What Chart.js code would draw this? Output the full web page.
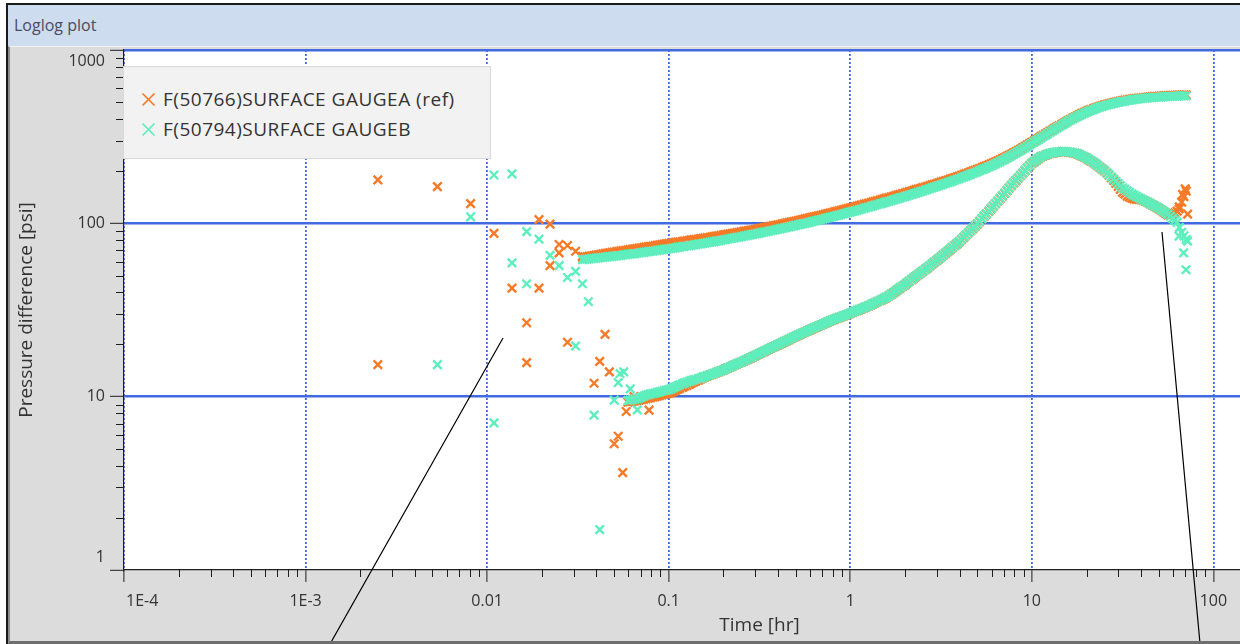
<!DOCTYPE html>
<html>
<head>
<meta charset="utf-8">
<title>Loglog plot</title>
<script src="https://cdn.jsdelivr.net/npm/chart.js@4.4.1/dist/chart.umd.min.js"></script>
<style>
  html, body { margin: 0; padding: 0; width: 1240px; height: 644px; overflow: hidden; background: #fff;
    font-family: "Segoe UI", "Open Sans", "Noto Sans", sans-serif; }
  #frame { position: absolute; left: 6px; top: 3px; width: 1300px; height: 700px;
    border-left: 2px solid #1a1a1a; border-top: 2px solid #1a1a1a; }
  #titlebar { position: absolute; left: 8px; top: 5px; width: 1300px; height: 41px; background: #cddcee;
    color: #4b4b60; font-size: 16px; line-height: 41px; padding-left: 6px; box-sizing: border-box; }
  #panel { position: absolute; left: 8px; top: 46px; width: 1450px; height: 598px; background: #dcdcdc;
    border-top: 1px solid #f4f4f4; border-left: 2px solid #8c8c8c; border-bottom: 3px solid #6e6e6e; box-sizing: border-box; }
  #chartBox { position: absolute; left: 10px; top: 48px; }
  #legend { position: absolute; left: 123px; top: 66px; width: 368px; height: 93px; box-sizing: border-box;
    background: #f2f2f2; border: 1px solid #d9d9d9; }
  #legend .item { position: absolute; left: 17px; height: 24px; display: flex; align-items: center;
    font-size: 19px; letter-spacing: 0.5px; color: #333; white-space: nowrap; }
  #legend svg { margin-right: 7px; }
</style>
</head>
<body>
<div id="frame"></div>
<div id="titlebar">Loglog plot</div>
<div id="panel"></div>
<div id="chartBox"><canvas id="plot" width="1385" height="593"></canvas></div>
<div id="legend"></div>
<script>
// axis ticks
const xTickValues = [1e-4, 1e-3, 0.01, 0.1, 1, 10, 100, 1000];
const xTickLabels = ['1E-4', '1E-3', '0.01', '0.1', '1', '10', '100', '1000'];
const yTickValues = [1, 10, 100, 1000];
const yTickLabels = ['1', '10', '100', '1000'];
const minorSteps = [2, 3, 4, 5, 6, 7, 8, 9];

const seriesNames = ['F(50766)SURFACE GAUGEA (ref)', 'F(50794)SURFACE GAUGEB'];
const seriesColors = ['#f77a28', '#5feebd'];

// time of the regular samples [hr]
const denseTime = [
  0.0335, 0.0345, 0.0355, 0.0365, 0.0376, 0.0387, 0.0398, 0.0410, 0.0422, 0.0434, 0.0447, 0.0460, 0.0473, 0.0487, 0.0501, 0.0516, 0.0531, 0.0546, 0.0562, 0.0579,
  0.0596, 0.0613, 0.0631, 0.0649, 0.0668, 0.0688, 0.0708, 0.0729, 0.0750, 0.0772, 0.0794, 0.0818, 0.0841, 0.0866, 0.0891, 0.0917, 0.0944, 0.0972, 0.100, 0.103,
  0.106, 0.109, 0.112, 0.115, 0.119, 0.122, 0.126, 0.130, 0.133, 0.137, 0.141, 0.146, 0.150, 0.154, 0.158, 0.163, 0.168, 0.173, 0.178, 0.183,
  0.188, 0.194, 0.200, 0.205, 0.211, 0.218, 0.224, 0.230, 0.237, 0.244, 0.251, 0.259, 0.266, 0.274, 0.282, 0.290, 0.299, 0.307, 0.316, 0.325,
  0.335, 0.345, 0.355, 0.365, 0.376, 0.387, 0.398, 0.410, 0.422, 0.434, 0.447, 0.460, 0.473, 0.487, 0.501, 0.516, 0.531, 0.546, 0.562, 0.579,
  0.596, 0.613, 0.631, 0.649, 0.668, 0.688, 0.708, 0.729, 0.750, 0.772, 0.794, 0.818, 0.841, 0.866, 0.891, 0.917, 0.944, 0.972, 1.00, 1.03,
  1.06, 1.09, 1.12, 1.15, 1.19, 1.22, 1.26, 1.30, 1.33, 1.37, 1.41, 1.46, 1.50, 1.54, 1.58, 1.63, 1.68, 1.73, 1.78, 1.83,
  1.88, 1.94, 2.00, 2.05, 2.11, 2.18, 2.24, 2.30, 2.37, 2.44, 2.51, 2.59, 2.66, 2.74, 2.82, 2.90, 2.99, 3.07, 3.16, 3.25,
  3.35, 3.45, 3.55, 3.65, 3.76, 3.87, 3.98, 4.10, 4.22, 4.34, 4.47, 4.60, 4.73, 4.87, 5.01, 5.16, 5.31, 5.46, 5.62, 5.79,
  5.96, 6.13, 6.31, 6.49, 6.68, 6.88, 7.08, 7.29, 7.50, 7.72, 7.94, 8.18, 8.41, 8.66, 8.91, 9.17, 9.44, 9.72, 10.0, 10.3,
  10.6, 10.9, 11.2, 11.5, 11.9, 12.2, 12.6, 13.0, 13.3, 13.7, 14.1, 14.6, 15.0, 15.4, 15.8, 16.3, 16.8, 17.3, 17.8, 18.3,
  18.8, 19.4, 20.0, 20.5, 21.1, 21.8, 22.4, 23.0, 23.7, 24.4, 25.1, 25.9, 26.6, 27.4, 28.2, 29.0, 29.9, 30.7, 31.6, 32.5,
  33.5, 34.5, 35.5, 36.5, 37.6, 38.7, 39.8, 41.0, 42.2, 43.4, 44.7, 46.0, 47.3, 48.7, 50.1, 51.6, 53.1, 54.6, 56.2, 57.9,
  59.6, 61.3, 63.1, 64.9, 66.8, 68.8, 70.8
];

// pressure change [psi]
const dpA = [
  63.8, 64.0, 64.3, 64.6, 64.9, 65.2, 65.6, 65.9, 66.3, 66.7, 67.1, 67.4, 67.7, 68.0, 68.3, 68.6, 69.0, 69.3, 69.6, 69.9,
  70.3, 70.6, 71.0, 71.3, 71.6, 72.0, 72.3, 72.6, 73.0, 73.3, 73.7, 74.0, 74.4, 74.8, 75.2, 75.5, 75.9, 76.3, 76.7, 77.0,
  77.3, 77.6, 78.0, 78.3, 78.7, 79.1, 79.5, 79.8, 80.2, 80.5, 80.8, 81.2, 81.7, 82.0, 82.4, 82.7, 83.1, 83.5, 84.0, 84.4,
  84.8, 85.2, 85.7, 86.1, 86.6, 87.0, 87.5, 87.9, 88.4, 88.8, 89.3, 89.8, 90.3, 90.8, 91.3, 91.8, 92.4, 92.9, 93.4, 93.9,
  94.4, 95.0, 95.6, 96.2, 96.9, 97.4, 97.9, 98.5, 99.2, 99.9, 100.6, 101.2, 101.9, 102.5, 103.1, 103.8, 104.5, 105.2, 106.0, 106.7,
  107.5, 108.2, 109.0, 109.7, 110.5, 111.3, 112.1, 112.9, 113.8, 114.6, 115.5, 116.4, 117.3, 118.1, 119.0, 119.9, 120.9, 121.8, 122.8, 123.7,
  124.7, 125.7, 126.7, 127.7, 128.7, 129.7, 130.7, 131.8, 132.9, 134.0, 135.1, 136.2, 137.4, 138.5, 139.7, 140.8, 142.0, 143.2, 144.4, 145.7,
  147.1, 148.3, 149.5, 150.9, 152.4, 153.7, 155.1, 156.4, 157.8, 159.2, 160.6, 162.0, 163.5, 165.0, 166.6, 168.1, 169.7, 171.3, 173.0, 174.6,
  176.2, 177.9, 179.7, 181.6, 183.5, 185.4, 187.4, 189.4, 191.4, 193.5, 195.7, 197.9, 200.1, 202.4, 204.8, 207.2, 209.7, 212.2, 214.7, 217.5,
  220.3, 223.2, 226.2, 229.4, 232.7, 236.1, 239.5, 243.3, 247.1, 251.1, 255.1, 259.5, 263.9, 268.5, 273.2, 278.2, 283.3, 288.5, 293.7, 299.1,
  304.6, 310.4, 316.2, 322.0, 327.9, 334.0, 340.1, 346.5, 353.0, 359.3, 365.7, 372.1, 378.6, 385.3, 392.0, 398.6, 405.3, 411.8, 418.3, 424.5,
  430.7, 436.5, 442.4, 448.0, 453.6, 458.8, 464.0, 468.8, 473.6, 478.0, 482.4, 486.4, 490.4, 494.1, 497.9, 501.3, 504.7, 507.8, 510.9, 513.7,
  516.6, 519.1, 521.6, 523.8, 526.1, 528.1, 530.1, 531.8, 533.5, 535.1, 536.8, 538.1, 539.5, 540.6, 541.8, 542.9, 544.0, 544.9, 545.9, 546.7,
  547.5, 548.2, 549.0, 549.6, 550.2, 550.7, 551.2
];
const dpB = [
  61.7, 61.9, 62.1, 62.3, 62.5, 62.7, 63.0, 63.2, 63.4, 63.6, 63.8, 64.0, 64.3, 64.5, 64.7, 64.9, 65.2, 65.4, 65.7, 65.9,
  66.2, 66.4, 66.7, 66.9, 67.2, 67.5, 67.8, 68.0, 68.3, 68.6, 68.9, 69.2, 69.5, 69.8, 70.1, 70.4, 70.7, 71.0, 71.3, 71.6,
  71.9, 72.2, 72.6, 72.9, 73.3, 73.6, 74.0, 74.3, 74.7, 75.0, 75.4, 75.8, 76.2, 76.5, 76.9, 77.3, 77.7, 78.1, 78.5, 78.9,
  79.3, 79.7, 80.2, 80.6, 81.1, 81.5, 82.0, 82.4, 82.9, 83.3, 83.8, 84.3, 84.8, 85.3, 85.8, 86.3, 86.8, 87.3, 87.9, 88.4,
  88.9, 89.4, 90.0, 90.6, 91.2, 91.7, 92.3, 92.9, 93.5, 94.1, 94.8, 95.4, 96.0, 96.6, 97.3, 97.9, 98.6, 99.3, 100, 100.7,
  101.4, 102.1, 102.8, 103.5, 104.3, 105.1, 105.9, 106.7, 107.5, 108.3, 109.1, 109.9, 110.8, 111.6, 112.5, 113.4, 114.3, 115.2, 116.1, 117.0,
  118.0, 119.0, 120.0, 121.0, 122.0, 123.0, 124.0, 125.1, 126.2, 127.3, 128.4, 129.5, 130.6, 131.7, 132.9, 134.0, 135.2, 136.4, 137.7, 138.9,
  140.2, 141.4, 142.7, 144.0, 145.4, 146.7, 148.1, 149.5, 150.9, 152.3, 153.8, 155.3, 156.8, 158.4, 160.0, 161.6, 163.2, 164.8, 166.5, 168.2,
  169.9, 171.7, 173.5, 175.4, 177.3, 179.2, 181.2, 183.2, 185.3, 187.4, 189.6, 191.8, 194.1, 196.4, 198.8, 201.3, 203.8, 206.3, 208.9, 211.7,
  214.5, 217.5, 220.5, 223.7, 227.0, 230.5, 234.1, 237.9, 241.8, 245.9, 250.1, 254.5, 259.0, 263.7, 268.4, 273.3, 278.3, 283.5, 288.8, 294.2,
  299.8, 305.4, 311.2, 317.1, 323.1, 329.2, 335.4, 341.7, 348.1, 354.5, 361.0, 367.5, 374.1, 380.7, 387.4, 393.9, 400.5, 406.9, 413.3, 419.4,
  425.6, 431.4, 437.2, 442.7, 448.2, 453.4, 458.5, 463.2, 468.0, 472.3, 476.7, 480.6, 484.6, 488.3, 492.0, 495.3, 498.7, 501.7, 504.8, 507.6,
  510.5, 513.0, 515.4, 517.6, 519.9, 521.8, 523.8, 525.5, 527.2, 528.8, 530.4, 531.7, 533.1, 534.2, 535.4, 536.4, 537.5, 538.4, 539.4, 540.2,
  541.0, 541.7, 542.5, 543.1, 543.7, 544.2, 544.7
];

// derivative [psi], no smooth value before 0.06 hr
const derA = [
  null, null, null, null, null, null, null, null, null, null, null, null, null, null, null, null, null, null, null, null,
  9.3, 9.35, 9.4, 9.45, 9.5, 9.56, 9.62, 9.68, 9.75, 9.81, 9.87, 9.93, 10.0, 10.07, 10.15, 10.22, 10.3, 10.37, 10.45, 10.58,
  10.72, 10.86, 11.0, 11.15, 11.3, 11.45, 11.6, 11.77, 11.95, 12.12, 12.3, 12.47, 12.65, 12.82, 13.0, 13.15, 13.3, 13.45, 13.6, 13.75,
  13.9, 14.07, 14.25, 14.42, 14.6, 14.8, 15.0, 15.2, 15.4, 15.6, 15.8, 16.02, 16.25, 16.47, 16.7, 16.95, 17.2, 17.45, 17.7, 17.95,
  18.2, 18.47, 18.75, 19.02, 19.3, 19.57, 19.85, 20.15, 20.45, 20.72, 21.0, 21.32, 21.65, 21.97, 22.3, 22.6, 22.9, 23.22, 23.55, 23.87,
  24.2, 24.55, 24.9, 25.2, 25.5, 25.85, 26.2, 26.55, 26.9, 27.25, 27.6, 27.92, 28.25, 28.57, 28.9, 29.2, 29.5, 29.85, 30.2, 30.6,
  31.0, 31.35, 31.7, 32.1, 32.5, 32.92, 33.35, 33.82, 34.3, 34.8, 35.3, 35.8, 36.3, 36.8, 37.3, 38.1, 38.9, 39.7, 40.5, 41.4,
  42.3, 43.2, 44.1, 45.15, 46.2, 47.25, 48.3, 49.45, 50.6, 51.75, 52.9, 54.15, 55.4, 56.75, 58.1, 59.5, 60.9, 62.35, 63.8, 65.45,
  67.1, 68.85, 70.6, 72.45, 74.3, 76.2, 78.1, 80.5, 82.9, 85.4, 88.0, 90.6, 93.3, 96.1, 99.0, 102.4, 105.9, 109.6, 113.3, 117.3,
  121.3, 125.4, 129.7, 134.2, 138.9, 143.8, 148.9, 154.1, 159.5, 165.1, 170.9, 176.5, 182.3, 188.4, 194.7, 201.2, 207.9, 214.7, 221.7, 226.5,
  231.3, 236.3, 241.5, 244.3, 247.1, 250.0, 252.8, 254.1, 255.4, 256.8, 257.9, 258.5, 258.7, 258.4, 257.6, 256.4, 254.9, 253.3, 251.6, 248.1,
  244.6, 241.1, 237.6, 233.2, 228.8, 224.5, 220.2, 215.2, 210.2, 205.5, 200.8, 195.1, 189.5, 183.2, 177.0, 170.2, 163.5, 157.1, 151.0, 147.2,
  143.5, 141.5, 139.5, 138.5, 137.5, 137.2, 137.0, 135.5, 134.0, 132.0, 130.0, 127.9, 125.8, 123.6, 121.5, 119.0, 116.5, 114.2, 112.0, 112.0,
  112.8, 115.0, 117.5, 124.5, 132.4, 142.5, 153.5
];
const derB = [
  null, null, null, null, null, null, null, null, null, null, null, null, null, null, null, null, null, null, null, null,
  9.5, 9.55, 9.6, 9.67, 9.75, 9.85, 9.95, 10.07, 10.2, 10.28, 10.37, 10.43, 10.5, 10.58, 10.67, 10.75, 10.84, 10.92, 11.0, 11.13,
  11.27, 11.41, 11.56, 11.71, 11.86, 12.0, 12.15, 12.27, 12.4, 12.5, 12.6, 12.7, 12.8, 12.95, 13.1, 13.22, 13.34, 13.5, 13.65, 13.8,
  13.96, 14.12, 14.29, 14.47, 14.66, 14.85, 15.05, 15.25, 15.45, 15.65, 15.85, 16.08, 16.31, 16.55, 16.79, 17.03, 17.28, 17.53, 17.78, 18.04,
  18.30, 18.57, 18.84, 19.11, 19.39, 19.67, 19.95, 20.24, 20.54, 20.83, 21.13, 21.44, 21.75, 22.07, 22.39, 22.70, 23.01, 23.33, 23.66, 23.99,
  24.32, 24.66, 25.00, 25.32, 25.64, 25.98, 26.33, 26.68, 27.04, 27.38, 27.73, 28.05, 28.38, 28.69, 29.01, 29.33, 29.65, 29.99, 30.34, 30.73,
  31.12, 31.50, 31.88, 32.27, 32.66, 33.08, 33.50, 33.96, 34.43, 34.93, 35.44, 35.96, 36.48, 36.99, 37.50, 38.28, 39.08, 39.90, 40.74, 41.64,
  42.56, 43.45, 44.36, 45.39, 46.45, 47.51, 48.59, 49.69, 50.82, 52.00, 53.21, 54.45, 55.72, 57.05, 58.41, 59.81, 61.24, 62.67, 64.12, 65.76,
  67.45, 69.18, 70.96, 72.78, 74.64, 76.55, 78.52, 80.91, 83.37, 85.85, 88.41, 91.04, 93.76, 96.61, 99.54, 102.9, 106.4, 110.1, 113.9, 117.8,
  121.9, 126.0, 130.3, 134.9, 139.6, 144.5, 149.6, 154.9, 160.3, 166.0, 171.8, 177.4, 183.2, 189.3, 195.7, 202.2, 208.9, 215.7, 222.8, 227.6,
  232.5, 237.5, 242.7, 245.5, 248.3, 251.2, 254.1, 255.4, 256.7, 258.1, 259.2, 259.8, 260.0, 259.7, 258.9, 257.7, 256.2, 254.6, 252.9, 249.3,
  245.8, 242.3, 238.8, 234.3, 229.9, 225.6, 221.3, 216.2, 211.3, 206.5, 201.8, 196.1, 190.5, 185.1, 179.9, 174.8, 169.8, 165.0, 160.3, 157.1,
  154.0, 150.9, 147.9, 145.5, 143.2, 140.9, 138.7, 136.6, 134.5, 132.4, 130.3, 128.2, 126.2, 124.2, 122.2, 119.8, 117.5, 115.2, 113.0, 109.9,
  106.9, 104.0, 101.2, 94.7, 88.7, 84.6, 80.7
];

// early scattered points [time, psi]
const earlyA = [
  [0.00250, 178], [0.00532, 163], [0.00811, 130], [0.0109, 87.5], [0.0193, 105], [0.0222, 99],
  [0.0249, 75.5], [0.0277, 74.5], [0.0249, 67.6], [0.0307, 69], [0.0335, 64.6], [0.0222, 57],
  [0.0137, 42.3], [0.0193, 42.3], [0.0165, 26.7], [0.0277, 20.6], [0.0446, 22.9], [0.00250, 15.3],
  [0.0165, 15.7], [0.0417, 16.0], [0.0471, 13.9], [0.0388, 11.95], [0.0583, 8.21], [0.0527, 5.91],
  [0.0501, 5.35], [0.0558, 3.65], [0.0644, 10.0], [0.0779, 8.37]
];
const earlyB = [
  [0.0109, 190], [0.0137, 193], [0.00811, 109], [0.0165, 89.5], [0.0193, 81], [0.0222, 65.4],
  [0.0249, 57], [0.0137, 59.1], [0.0307, 52.8], [0.0277, 48.7], [0.0335, 44.8], [0.0361, 35.3],
  [0.0165, 44.8], [0.0307, 19.6], [0.00532, 15.3], [0.0539, 13.6], [0.0565, 13.9], [0.0527, 12.06],
  [0.0614, 11.09], [0.0501, 9.54], [0.0388, 7.83], [0.0109, 7.06], [0.0417, 1.71], [0.0672, 8.4]
];
// late scattered derivative points
const endA = [[64.7, 121], [67.6, 147], [69.9, 158], [72.1, 113]];
const endB = [[64.7, 84.4], [68.5, 67.5], [70.6, 54.0], [72.1, 78.9]];

// the two black callout strokes, ends in [time, psi]
const calloutLines = [
  [[0.01223, 21.8], [0.001363, 0.374]],
  [[52.1, 89.1], [84.4, 0.374]]
];

function buildPoints(dp, der, early, tail) {
  const pts = [];
  early.forEach(p => pts.push({x: p[0], y: p[1]}));
  denseTime.forEach((t, i) => {
    pts.push({x: t, y: dp[i]});
    if (der[i] != null) pts.push({x: t, y: der[i]});
  });
  tail.forEach(p => pts.push({x: p[0], y: p[1]}));
  return pts;
}

// legend box
const legendEl = document.getElementById('legend');
seriesNames.forEach((name, i) => {
  const row = document.createElement('div');
  row.className = 'item';
  row.style.top = (20 + i * 30) + 'px';
  row.innerHTML = '<svg width="15" height="15"><path d="M1.5 1.5 L13.5 13.5 M13.5 1.5 L1.5 13.5" stroke="' +
    seriesColors[i] + '" stroke-width="1.7" fill="none"/></svg><span>' + name + '</span>';
  legendEl.appendChild(row);
});

const FONT = '"Segoe UI", "Open Sans", "Noto Sans", sans-serif';
Chart.defaults.font.family = FONT;

const plotDecor = {
  id: 'plotDecor',
  beforeDraw(chart) {
    const {ctx, chartArea: a} = chart;
    ctx.save();
    ctx.fillStyle = '#ffffff';
    ctx.fillRect(a.left, a.top, a.right - a.left, a.bottom - a.top);
    ctx.restore();
  },
  afterDraw(chart) {
    const {ctx, chartArea: a} = chart;
    const xs = chart.scales.x, ys = chart.scales.y;
    ctx.save();
    // minor ticks
    ctx.strokeStyle = '#1e1e1e';
    ctx.lineWidth = 1;
    ctx.beginPath();
    xTickValues.slice(0, -1).forEach(d => minorSteps.forEach(s => {
      const px = Math.round(xs.getPixelForValue(d * s)) + 0.5;
      ctx.moveTo(px, a.bottom); ctx.lineTo(px, a.bottom + 7);
    }));
    yTickValues.slice(0, -1).forEach(d => minorSteps.forEach(s => {
      const py = Math.round(ys.getPixelForValue(d * s)) + 0.5;
      ctx.moveTo(a.left - 8, py); ctx.lineTo(a.left, py);
    }));
    ctx.stroke();
    // tick labels, kept inside the plot span like the original
    ctx.fillStyle = '#333';
    ctx.font = '16px ' + FONT;
    ctx.textBaseline = 'middle';
    ctx.textAlign = 'right';
    yTickValues.forEach((v, i) => {
      let py = ys.getPixelForValue(v);
      py = Math.min(Math.max(py, a.top + 11), a.bottom - 13);
      ctx.fillText(yTickLabels[i], a.left - 19, py);
    });
    ctx.textAlign = 'center';
    xTickValues.forEach((v, i) => {
      let px = xs.getPixelForValue(v);
      const w = ctx.measureText(xTickLabels[i]).width;
      px = Math.max(px, a.left + w / 2 + 2);
      ctx.fillText(xTickLabels[i], px, a.bottom + 31);
    });
    // callouts
    ctx.strokeStyle = '#000';
    ctx.lineWidth = 1.2;
    ctx.beginPath();
    calloutLines.forEach(([p, q]) => {
      ctx.moveTo(xs.getPixelForValue(p[0]), ys.getPixelForValue(p[1]));
      ctx.lineTo(xs.getPixelForValue(q[0]), ys.getPixelForValue(q[1]));
    });
    ctx.stroke();
    ctx.restore();
  }
};

function pointSet(i, pts, order) {
  return {
    label: seriesNames[i],
    data: pts,
    showLine: false,
    pointStyle: 'crossRot',
    pointRadius: 6,
    pointBorderWidth: 2.4,
    pointBorderColor: seriesColors[i],
    pointBackgroundColor: seriesColors[i],
    borderColor: seriesColors[i],
    order: order
  };
}

new Chart(document.getElementById('plot'), {
  type: 'scatter',
  data: {
    datasets: [
      pointSet(0, buildPoints(dpA, derA, earlyA, endA), 2),
      pointSet(1, buildPoints(dpB, derB, earlyB, endB), 1)
    ]
  },
  options: {
    responsive: false,
    animation: false,
    events: [],
    layout: {autoPadding: false, padding: {top: 2, left: 0, right: 0, bottom: 0}},
    plugins: {legend: {display: false}, tooltip: {enabled: false}},
    scales: {
      x: {
        type: 'logarithmic',
        min: 1e-4,
        max: 1000,
        afterBuildTicks: axis => { axis.ticks = xTickValues.map(v => ({value: v})); },
        afterFit: axis => { axis.height = 71; },
        ticks: {display: false, autoSkip: false},
        grid: {color: '#4169e1', lineWidth: 1.8, tickLength: 12, tickColor: '#1e1e1e', tickWidth: 1},
        border: {color: '#1e1e1e', width: 1.2, dash: [2, 2]},
        title: {display: true, text: 'Time [hr]', color: '#333', font: {size: 19}, padding: {top: 0, bottom: 4}}
      },
      y: {
        type: 'logarithmic',
        min: 1,
        max: 1000,
        afterBuildTicks: axis => { axis.ticks = yTickValues.map(v => ({value: v})); },
        afterFit: axis => { axis.width = 114; },
        ticks: {display: false, autoSkip: false},
        grid: {
          color: c => (c.tick && c.tick.value === 1) ? 'rgba(0,0,0,0)' : '#4169e1',
          lineWidth: 2.6, tickLength: 14, tickColor: '#1e1e1e', tickWidth: 1
        },
        border: {color: '#1e1e1e', width: 1.2},
        title: {display: true, text: 'Pressure difference [psi]', color: '#333', font: {size: 19}, padding: {top: 5, bottom: 0}}
      }
    }
  },
  plugins: [plotDecor]
});
</script>
</body>
</html>
